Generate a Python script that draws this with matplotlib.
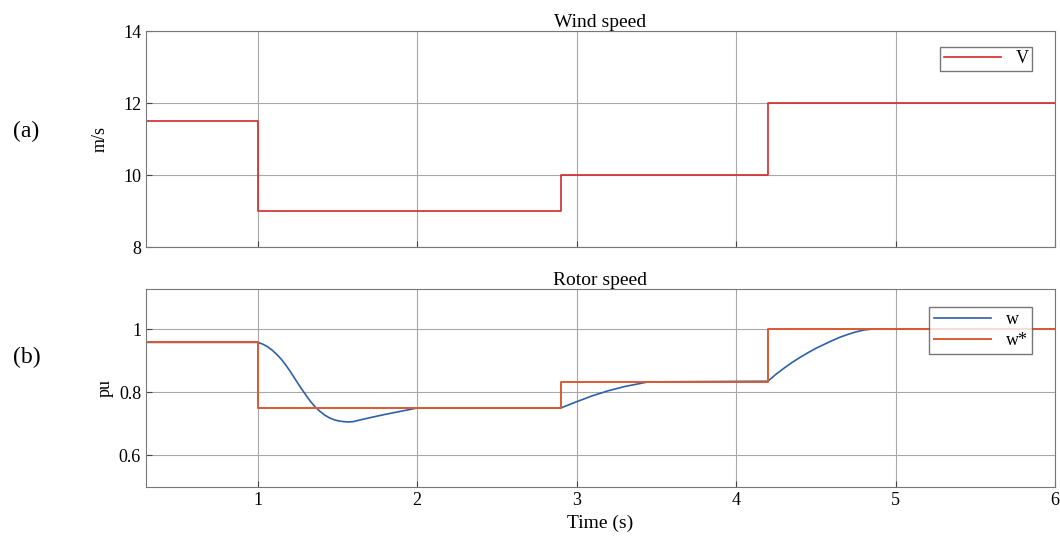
import numpy as np
import matplotlib.pyplot as plt

plt.rcParams['font.family'] = ['Liberation Serif', 'DejaVu Serif']

# wind speed steps (m/s)
t_v = [0.3, 1.0, 1.0, 2.9, 2.9, 4.2, 4.2, 6.0]
v = [11.5, 11.5, 9.0, 9.0, 10.0, 10.0, 12.0, 12.0]

# rotor speed reference w* (pu)
t_ref = [0.3, 1.0, 1.0, 2.9, 2.9, 4.2, 4.2, 6.0]
w_ref = [0.958, 0.958, 0.75, 0.75, 0.833, 0.833, 1.0, 1.0]

# rotor speed w (pu)
t_w = [0.3, 1.0, 1.03, 1.06, 1.09, 1.12, 1.15, 1.18, 1.21, 1.24, 1.27, 1.30,
       1.33, 1.36, 1.39, 1.42, 1.45, 1.48, 1.51, 1.54, 1.57, 1.60, 1.64, 1.70,
       1.80, 1.90, 2.0, 2.9, 3.0, 3.1, 3.2, 3.3, 3.4, 3.45,
       4.2, 4.25, 4.3, 4.35, 4.4, 4.45, 4.5, 4.55, 4.6, 4.65, 4.7, 4.75, 4.8,
       4.85, 6.0]
w = [0.958, 0.958, 0.953, 0.945, 0.934, 0.920, 0.904, 0.884, 0.862, 0.838, 0.815, 0.793,
     0.772, 0.754, 0.740, 0.728, 0.719, 0.713, 0.709, 0.707, 0.706, 0.707, 0.712, 0.719,
     0.730, 0.740, 0.75, 0.75, 0.770, 0.789, 0.805, 0.818, 0.828, 0.833,
     0.835, 0.857, 0.876, 0.894, 0.910, 0.925, 0.939, 0.951, 0.963, 0.974, 0.983, 0.991, 0.997,
     1.0, 1.0]

fig = plt.figure(figsize=(10.6, 5.37), dpi=100)
ax1 = fig.add_axes([0.1377, 0.540, 0.8576, 0.4022])
ax2 = fig.add_axes([0.1377, 0.0931, 0.8576, 0.3687])

grid_kw = dict(color='#a8a8a8', linewidth=0.8)

ax1.plot(t_v, v, color='#d42a2a', linewidth=1.2, label='V')
ax1.set_xlim(0.3, 6)
ax1.set_ylim(8, 14)
ax1.set_yticks([8, 10, 12, 14])
ax1.set_xticks([1, 2, 3, 4, 5, 6])
ax1.set_xticklabels([])
ax1.set_ylabel('m/s', fontsize=13, labelpad=10)
ax1.set_title('Wind speed', fontsize=14, pad=3)
ax1.grid(True, **grid_kw)
ax1.legend(loc='upper right', fontsize=13, fancybox=False, edgecolor='#555555',
           handlelength=3.2, borderpad=0.2, bbox_to_anchor=(0.985, 0.97))

ax2.plot(t_w, w, color='#2e5fa8', linewidth=1.2, label='w')
ax2.plot(t_ref, w_ref, color='#d95a33', linewidth=1.4, label='w*')
ax2.set_xlim(0.3, 6)
ax2.set_ylim(0.5, 1.127)
ax2.set_yticks([0.6, 0.8, 1.0])
ax2.set_yticklabels(['0.6', '0.8', '1'])
ax2.set_xticks([1, 2, 3, 4, 5, 6])
ax2.set_ylabel('pu', fontsize=13, labelpad=4)
ax2.set_xlabel('Time (s)', fontsize=14, labelpad=4)
ax2.set_title('Rotor speed', fontsize=14, pad=3)
ax2.grid(True, **grid_kw)
ax2.legend(loc='upper right', fontsize=13, fancybox=False, edgecolor='#555555',
           handlelength=3.2, borderpad=0.25, labelspacing=0.2,
           bbox_to_anchor=(0.985, 0.955))

for ax in (ax1, ax2):
    ax.tick_params(labelsize=13, direction='in', length=4, color='#444444')
    for s in ax.spines.values():
        s.set_color('#777777')
    ax.set_axisbelow(True)

fig.text(0.012, 0.755, '(a)', fontsize=17, va='center')
fig.text(0.012, 0.335, '(b)', fontsize=17, va='center')

fig.savefig('out.png', dpi=100)
